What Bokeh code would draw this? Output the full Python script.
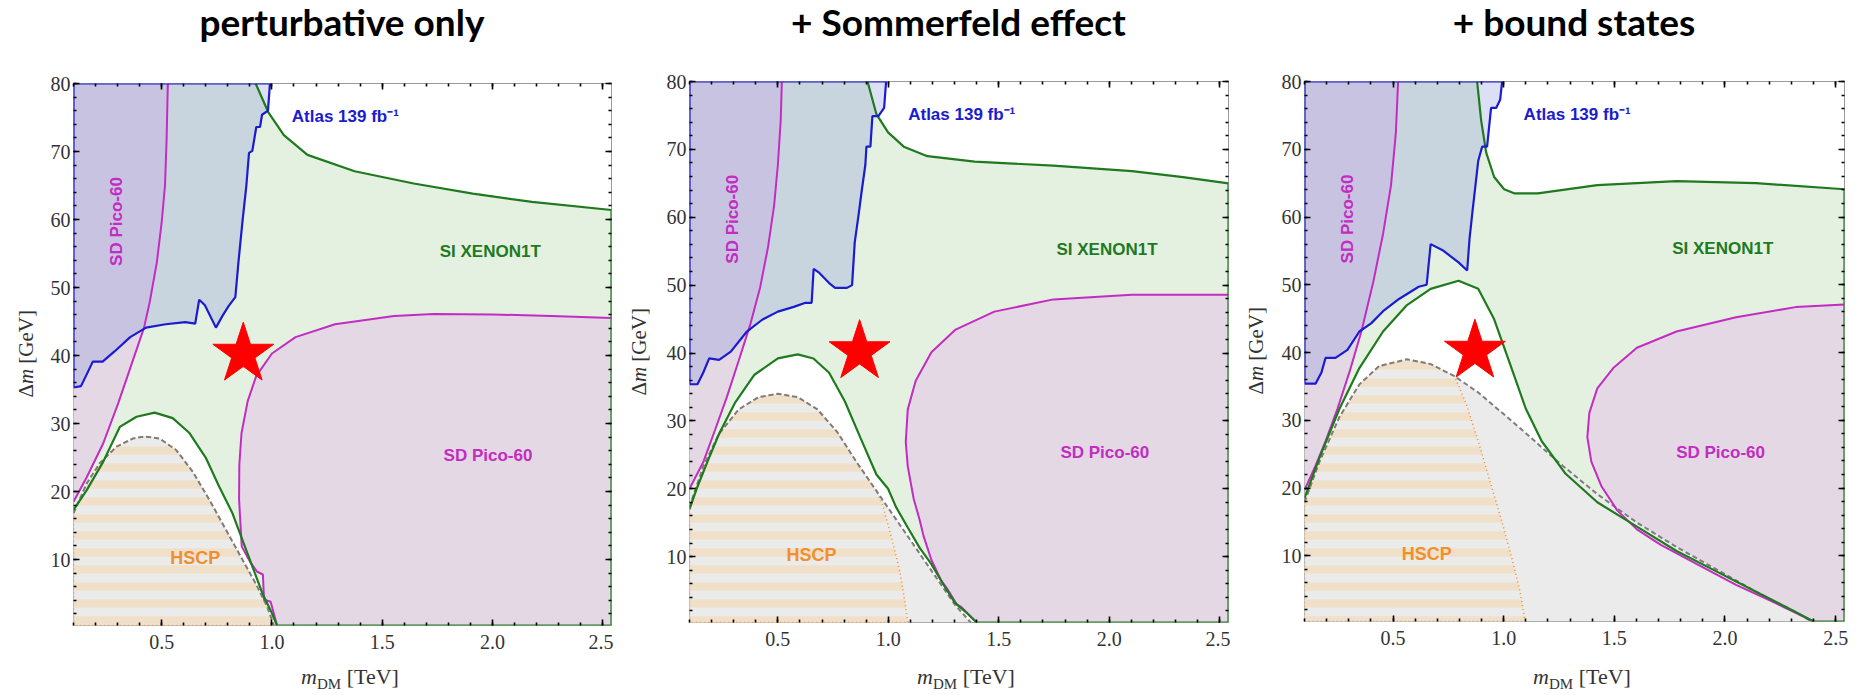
from math import pi
from bokeh.plotting import figure
from bokeh.layouts import row, column
from bokeh.models import Range1d, FixedTicker, LinearAxis, Label, NumeralTickFormatter, Div
from bokeh.embed import file_html
from bokeh.resources import INLINE

# ---------------- data ----------------
X_MIN, X_MAX = 0.1, 2.54
Y_MIN, Y_MAX = 0.3, 80.0
TITLES = ["perturbative only", "+ Sommerfeld effect", "+ bound states"]
X_TICKS = [0.5, 1.0, 1.5, 2.0, 2.5]
X_MINOR = [0.1, 0.2, 0.3, 0.4, 0.5, 0.6, 0.7, 0.8, 0.9, 1.0, 1.1, 1.2, 1.3, 1.4, 1.5,
           1.6, 1.7, 1.8, 1.9, 2.0, 2.1, 2.2, 2.3, 2.4, 2.5]
Y_TICKS = [10, 20, 30, 40, 50, 60, 70, 80]
Y_MINOR = [2, 4, 6, 8, 10, 12, 14, 16, 18, 20, 22, 24, 26, 28, 30, 32, 34, 36, 38, 40,
           42, 44, 46, 48, 50, 52, 54, 56, 58, 60, 62, 64, 66, 68, 70, 72, 74, 76, 78, 80]
STAR_X, STAR_Y = 0.87, 40.2

# panel 1: perturbative only
p1_pico_left_x = [0.10, 0.16, 0.235, 0.303, 0.36, 0.42, 0.446, 0.478, 0.500, 0.515, 0.522, 0.528]
p1_pico_left_y = [18.5, 22.1, 27.1, 33.0, 38.4, 44.1, 47.9, 53.7, 59.6, 65.0, 71.5, 80.0]
p1_atlas_x = [0.10, 0.134, 0.161, 0.1875, 0.232, 0.286, 0.357, 0.429, 0.518, 0.607, 0.652, 0.67, 0.696,
              0.746, 0.777, 0.804, 0.834, 0.848, 0.866, 0.884, 0.896, 0.911, 0.929, 0.946, 0.955, 0.982, 0.991]
p1_atlas_y = [35.3, 35.5, 37.3, 39.1, 39.1, 40.6, 42.7, 44.1, 44.6, 44.9, 44.7, 48.2, 47.4,
              44.1, 45.9, 47.3, 48.6, 53.7, 59.6, 65.0, 69.8, 70.1, 73.6, 73.6, 75.4, 76.0, 80.0]
p1_xenon_up_x = [0.926, 0.983, 1.054, 1.161, 1.375, 1.643, 1.911, 2.179, 2.54]
p1_xenon_up_y = [80.0, 75.8, 72.4, 69.5, 67.1, 65.3, 63.8, 62.6, 61.4]
p1_xenon_lo_x = [0.10, 0.16, 0.235, 0.31, 0.386, 0.468, 0.55, 0.626, 0.701, 0.761, 0.821, 0.866, 0.911,
                 0.956, 1.0, 1.023]
p1_xenon_lo_y = [17.3, 20.2, 24.4, 29.5, 31.0, 31.6, 30.8, 28.6, 24.9, 20.7, 16.8, 12.9, 9.0,
                 5.1, 2.1, 0.3]
p1_pico_right_x = [1.023, 1.0, 0.994, 0.964, 0.959, 0.933, 0.904, 0.863, 0.851, 0.852, 0.862, 0.89,
                   0.929, 1.0, 1.107, 1.286, 1.554, 1.732, 2.0, 2.268, 2.54]
p1_pico_right_y = [0.3, 3.1, 3.8, 4.1, 7.8, 8.2, 9.5, 11.9, 18.8, 23.9, 28.6, 33.3,
                   37.0, 40.3, 42.7, 44.6, 45.8, 46.1, 46.05, 45.8, 45.5]
p1_dash_x = [0.10, 0.16, 0.22, 0.295, 0.37, 0.423, 0.49, 0.566, 0.641, 0.716, 0.791, 0.859, 0.926, 0.978, 1.009]
p1_dash_y = [16.8, 21.2, 24.2, 26.6, 27.8, 28.1, 27.8, 26.1, 22.9, 18.8, 14.4, 10.4, 6.5, 3.1, 0.3]
p1_hscp_x = p1_dash_x
p1_hscp_y = p1_dash_y

# panel 2: + Sommerfeld effect
p2_pico_left_x = [0.10, 0.162, 0.216, 0.269, 0.323, 0.376, 0.42, 0.456, 0.483, 0.50, 0.513, 0.518]
p2_pico_left_y = [20.0, 23.9, 28.7, 33.5, 38.9, 44.3, 49.7, 55.7, 61.7, 67.7, 74.3, 80.0]
p2_atlas_x = [0.10, 0.136, 0.162, 0.189, 0.234, 0.287, 0.358, 0.429, 0.50, 0.572, 0.625, 0.653, 0.662,
              0.688, 0.732, 0.759, 0.813, 0.836, 0.848, 0.866, 0.878, 0.896, 0.901, 0.919, 0.928, 0.955,
              0.981, 0.99]
p2_atlas_y = [35.4, 35.4, 37.1, 39.2, 39.0, 40.2, 43.1, 44.9, 46.1, 46.8, 47.4, 47.4, 52.4,
              51.8, 50.3, 49.6, 49.6, 50.0, 56.3, 60.5, 63.5, 67.7, 70.4, 70.4, 74.9, 74.9,
              76.1, 80.0]
p2_xenon_up_x = [0.906, 0.946, 0.999, 1.07, 1.177, 1.391, 1.747, 2.103, 2.334, 2.54]
p2_xenon_up_y = [80.0, 75.2, 72.5, 70.4, 69.0, 68.2, 67.6, 66.8, 65.9, 65.0]
p2_xenon_lo_x = [0.10, 0.136, 0.18, 0.234, 0.305, 0.394, 0.50, 0.59, 0.661, 0.732, 0.803, 0.874, 0.946,
                 0.999, 1.035, 1.088, 1.142, 1.195, 1.249, 1.302, 1.355, 1.40]
p2_xenon_lo_y = [17.0, 20.3, 23.9, 28.1, 32.6, 36.8, 39.2, 39.8, 39.2, 37.1, 32.9, 27.5, 22.1,
                 20.0, 17.3, 14.3, 11.3, 8.9, 5.9, 3.2, 1.7, 0.3]
p2_pico_right_x = [1.40, 1.33, 1.311, 1.266, 1.239, 1.195, 1.159, 1.141, 1.115, 1.088, 1.079, 1.088,
                   1.124, 1.195, 1.302, 1.48, 1.747, 2.103, 2.54]
p2_pico_right_y = [0.3, 2.6, 2.9, 5.3, 6.5, 9.5, 13.1, 15.5, 18.5, 23.3, 26.9, 31.7,
                   35.9, 40.1, 43.4, 46.1, 47.9, 48.6, 48.6]
p2_dash_x = [0.10, 0.162, 0.234, 0.323, 0.412, 0.50, 0.59, 0.679, 0.768, 0.857, 0.946, 1.035, 1.124,
             1.213, 1.302, 1.373]
p2_dash_y = [17.3, 23.3, 28.1, 31.7, 33.5, 34.0, 33.5, 31.7, 28.4, 23.9, 19.7, 15.5, 11.3,
             7.1, 2.9, 0.3]
p2_hscp_x = [0.10, 0.162, 0.234, 0.323, 0.412, 0.50, 0.59, 0.679, 0.768, 0.857, 0.946, 0.972, 1.017,
             1.053, 1.074, 1.088]
p2_hscp_y = [17.3, 23.3, 28.1, 31.7, 33.5, 34.0, 33.5, 31.7, 28.4, 23.9, 19.7, 17.9, 12.5,
             7.7, 3.5, 0.3]

# panel 3: + bound states
p3_pico_left_x = [0.10, 0.15, 0.195, 0.249, 0.303, 0.357, 0.41, 0.455, 0.491, 0.513, 0.523]
p3_pico_left_y = [19.7, 23.3, 26.9, 31.7, 37.1, 43.1, 50.3, 57.5, 64.7, 72.5, 80.0]
p3_atlas_x = [0.10, 0.15, 0.177, 0.195, 0.24, 0.294, 0.348, 0.401, 0.455, 0.527, 0.616, 0.652, 0.67,
              0.724, 0.796, 0.835, 0.846, 0.858, 0.885, 0.903, 0.925, 0.943, 0.966, 0.984, 0.993]
p3_atlas_y = [35.4, 35.4, 37.1, 39.2, 39.2, 40.4, 43.1, 44.3, 46.1, 47.9, 49.7, 50.0, 56.0,
              55.1, 53.3, 52.1, 56.9, 60.5, 68.3, 70.4, 70.4, 76.1, 76.1, 77.3, 80.0]
p3_xenon_up_x = [0.88, 0.898, 0.921, 0.957, 1.002, 1.047, 1.154, 1.423, 1.781, 2.14, 2.54]
p3_xenon_up_y = [80.0, 74.3, 69.5, 65.9, 64.1, 63.5, 63.5, 64.7, 65.3, 65.0, 64.1]
p3_xenon_lo_x = [0.10, 0.168, 0.258, 0.348, 0.455, 0.563, 0.67, 0.796, 0.885, 0.957, 1.029, 1.10, 1.172,
                 1.28, 1.423, 1.602, 1.781, 1.961, 2.14, 2.319, 2.40]
p3_xenon_lo_y = [18.5, 24.5, 31.7, 37.7, 43.1, 47.0, 49.4, 50.6, 49.4, 44.9, 38.3, 31.7, 26.9,
                 22.1, 17.9, 14.3, 10.7, 7.7, 4.7, 1.7, 0.3]
p3_pico_right_x = [2.40, 2.229, 2.05, 1.871, 1.71, 1.602, 1.513, 1.441, 1.396, 1.378, 1.387, 1.423,
                   1.495, 1.602, 1.781, 2.05, 2.319, 2.54]
p3_pico_right_y = [0.3, 3.0, 5.7, 8.8, 11.6, 13.9, 16.7, 20.3, 23.9, 27.5, 31.1, 34.7,
                   37.7, 40.7, 43.1, 45.2, 46.7, 47.1]
p3_dash_x = [0.10, 0.168, 0.258, 0.348, 0.437, 0.563, 0.67, 0.778, 0.885, 0.993, 1.10, 1.244, 1.423,
             1.602, 1.781, 1.961, 2.14, 2.319, 2.391]
p3_dash_y = [17.9, 23.9, 30.5, 35.3, 38.0, 39.0, 38.3, 36.5, 34.1, 31.1, 28.1, 23.9, 19.1,
             14.9, 11.3, 8.0, 4.7, 1.7, 0.3]
p3_hscp_x = [0.10, 0.168, 0.258, 0.348, 0.437, 0.563, 0.67, 0.778, 0.832, 0.885, 0.939, 0.993, 1.038,
             1.074, 1.097]
p3_hscp_y = [17.9, 23.9, 30.5, 35.3, 38.0, 39.0, 38.3, 36.5, 32.3, 26.9, 20.9, 14.9, 9.5,
             4.7, 0.3]

# region labels (x, y)
ATLAS_LABEL = (1.09, 75.1)
XENON_LABEL = (1.99, 55.3)
PICO_R_LABEL = (1.98, 25.3)
PICO_L_LABEL = (0.295, 59.7)
HSCP_LABEL = (0.652, 10.2)

# ---------------- styling ----------------
XENON_FILL = "#e4f1e1"
PICO_FILL = "#e3d8e3"
ATLAS_FILL = "#7882d7"
ATLAS_ALPHA = 0.25
GREY_FILL = "#ebebeb"
HSCP_STRIPE = "#f0e0ca"
BLUE = "#1b1bd0"
MAGENTA = "#c22cc2"
GREEN = "#1f7a1f"
ORANGE = "#f0902c"
SERIF = "Liberation Serif"
SANS = "Liberation Sans"

YDIV_W = 46
TITLE_H = 50
XLAB_H = 35
FIG_H = 695 - TITLE_H - XLAB_H
# per panel: (panel width, frame left, frame right margin, frame top, frame bottom)
GEOM = [(613, 73, 2, 83, 625), (617, 76, 2, 81, 622), (632, 74, 18, 81, 621)]


def add_label(p, x, y, text, color, size="17px", angle=0.0, align="center"):
    p.add_layout(Label(x=x, y=y, text=text, text_color=color, text_font=SANS,
                       text_font_style="bold", text_font_size=size, text_align=align,
                       text_baseline="middle", angle=angle))


def make_panel(k, title, pl_x, pl_y, at_x, at_y, xu_x, xu_y, xl_x, xl_y, pr_x, pr_y, d_x, d_y, h_x, h_y):
    pw, fl, br, ft, fb = GEOM[k]
    fw = pw - YDIV_W
    bl = fl - YDIV_W
    p = figure(width=fw, height=FIG_H, x_range=Range1d(X_MIN, X_MAX), y_range=Range1d(Y_MIN, Y_MAX),
               output_backend="svg", toolbar_location=None, title=None,
               min_border_left=bl, min_border_right=br, min_border_top=ft - TITLE_H,
               min_border_bottom=FIG_H + TITLE_H - fb)
    p.xgrid.visible = False
    p.ygrid.visible = False
    p.outline_line_color = "#9a9a9a"
    p.background_fill_color = "white"
    p.border_fill_color = "white"

    p.add_layout(LinearAxis(), "above")
    p.add_layout(LinearAxis(), "right")
    for ax in p.xaxis:
        ax.ticker = FixedTicker(ticks=X_TICKS, minor_ticks=X_MINOR)
        ax.formatter = NumeralTickFormatter(format="0.0")
    for ax in p.yaxis:
        ax.ticker = FixedTicker(ticks=Y_TICKS, minor_ticks=Y_MINOR)
        ax.formatter = NumeralTickFormatter(format="0")
    for ax in list(p.xaxis) + list(p.yaxis):
        ax.axis_line_color = None
        ax.major_tick_in = 6
        ax.major_tick_out = 0
        ax.minor_tick_in = 3
        ax.minor_tick_out = 0
        ax.major_tick_line_width = 1.6
        ax.minor_tick_line_width = 1.6
        ax.major_tick_line_color = "black"
        ax.minor_tick_line_color = "black"
        ax.major_label_text_font = SERIF
        ax.major_label_text_font_size = "20px"
        ax.major_label_text_color = "#333333"
    for ax in (p.above[0], p.right[0]):
        ax.major_label_text_color = None
        ax.major_label_text_font_size = "1px"
        ax.major_label_standoff = 0
    p.below[0].major_label_standoff = 9
    p.left[0].major_label_standoff = 3

    # regions
    xen_x = [X_MIN] + xu_x + [X_MAX, xl_x[-1]] + xl_x[::-1]
    xen_y = [Y_MAX] + xu_y + [Y_MIN, Y_MIN] + xl_y[::-1]
    p.patch(xen_x, xen_y, fill_color=XENON_FILL, line_color=None)
    p.patch(pl_x + [X_MIN], pl_y + [Y_MAX], fill_color=PICO_FILL, line_color=None)
    p.patch(pr_x + [X_MAX], pr_y + [Y_MIN], fill_color=PICO_FILL, line_color=None)
    p.patch(at_x + [X_MIN], at_y + [Y_MAX], fill_color=ATLAS_FILL, fill_alpha=ATLAS_ALPHA, line_color=None)
    p.patch(d_x + [X_MIN], d_y + [Y_MIN], fill_color=GREY_FILL, line_color=None)
    p.patch(h_x + [X_MIN], h_y + [Y_MIN], fill_color=GREY_FILL, line_color=None,
            hatch_pattern="horizontal_line", hatch_color=HSCP_STRIPE, hatch_weight=8.5, hatch_scale=17)

    # boundaries
    p.line(h_x + [X_MIN, X_MIN], h_y + [Y_MIN, h_y[0]], line_color=ORANGE, line_width=1.6,
           line_dash="1 3")
    p.line(d_x, d_y, line_color="#7d7d7d", line_width=2, line_dash="5 3")
    p.line(pl_x, pl_y, line_color=MAGENTA, line_width=2)
    p.line(pr_x, pr_y, line_color=MAGENTA, line_width=2)
    p.line([X_MIN] + xl_x + [X_MAX, X_MAX] + xu_x[::-1],
           [xl_y[0]] + xl_y + [Y_MIN, xu_y[-1]] + xu_y[::-1], line_color=GREEN, line_width=2.2)
    p.line(at_x + [X_MIN, X_MIN], at_y + [Y_MAX, at_y[0]], line_color=BLUE, line_width=2.2)

    # star
    p.scatter([STAR_X], [STAR_Y], marker="star", size=64, fill_color="#ff0000", line_color="#ff0000")

    # region labels
    add_label(p, ATLAS_LABEL[0], ATLAS_LABEL[1], "Atlas 139 fb\u207b\u00b9", BLUE, align="left")
    add_label(p, XENON_LABEL[0], XENON_LABEL[1], "SI XENON1T", GREEN)
    add_label(p, PICO_R_LABEL[0], PICO_R_LABEL[1], "SD Pico-60", MAGENTA)
    add_label(p, PICO_L_LABEL[0], PICO_L_LABEL[1], "SD Pico-60", MAGENTA, angle=pi / 2)
    add_label(p, HSCP_LABEL[0], HSCP_LABEL[1], "HSCP", ORANGE, size="18px")

    frame_w = fw - bl - br
    # title (HTML text above the frame)
    thtml = ('<div style="margin-left:%dpx;width:%dpx;margin-top:0px;text-align:center;white-space:nowrap;'
             'font-family:Lato;font-weight:bold;font-size:37px;line-height:44px;color:#000000">%s</div>'
             % (bl, frame_w, title))
    tdiv = Div(text=thtml, width=fw, height=TITLE_H, margin=(0, 0, 0, 0))

    # axis labels as HTML text (italic m, subscript DM)
    cx = bl + frame_w / 2 + 8
    xhtml = ('<div style="margin-left:%dpx;width:200px;margin-top:4px;text-align:center;'
             'white-space:nowrap;font-family:\'Liberation Serif\';font-size:22px;line-height:26px;'
             'color:#333333"><i>m</i><span style="font-size:15px;position:relative;top:5px">DM</span>'
             '&nbsp;[TeV]</div>' % (int(cx - 100)))
    xdiv = Div(text=xhtml, width=fw, height=XLAB_H, margin=(0, 0, 0, 0))
    yhtml = ('<div style="box-sizing:border-box;width:%dpx;height:%dpx;margin-top:%dpx;padding-left:6px;'
             'display:flex;align-items:center;justify-content:center">'
             '<span style="writing-mode:vertical-rl;transform:rotate(180deg);white-space:nowrap;'
             'font-family:\'Liberation Serif\';font-size:21px;color:#333333">\u0394<i>m</i>&nbsp;[GeV]</span>'
             '</div>' % (YDIV_W, fb - ft, ft))
    ydiv = Div(text=yhtml, width=YDIV_W, height=695, margin=(0, 0, 0, 0))
    return row(ydiv, column(tdiv, p, xdiv, spacing=0), spacing=0)


c1 = make_panel(0, TITLES[0], p1_pico_left_x, p1_pico_left_y, p1_atlas_x, p1_atlas_y,
                p1_xenon_up_x, p1_xenon_up_y, p1_xenon_lo_x, p1_xenon_lo_y,
                p1_pico_right_x, p1_pico_right_y, p1_dash_x, p1_dash_y, p1_hscp_x, p1_hscp_y)
c2 = make_panel(1, TITLES[1], p2_pico_left_x, p2_pico_left_y, p2_atlas_x, p2_atlas_y,
                p2_xenon_up_x, p2_xenon_up_y, p2_xenon_lo_x, p2_xenon_lo_y,
                p2_pico_right_x, p2_pico_right_y, p2_dash_x, p2_dash_y, p2_hscp_x, p2_hscp_y)
c3 = make_panel(2, TITLES[2], p3_pico_left_x, p3_pico_left_y, p3_atlas_x, p3_atlas_y,
                p3_xenon_up_x, p3_xenon_up_y, p3_xenon_lo_x, p3_xenon_lo_y,
                p3_pico_right_x, p3_pico_right_y, p3_dash_x, p3_dash_y, p3_hscp_x, p3_hscp_y)

layout = row(c1, c2, c3, spacing=0)
open("out.html", "w").write(file_html(layout, INLINE))
